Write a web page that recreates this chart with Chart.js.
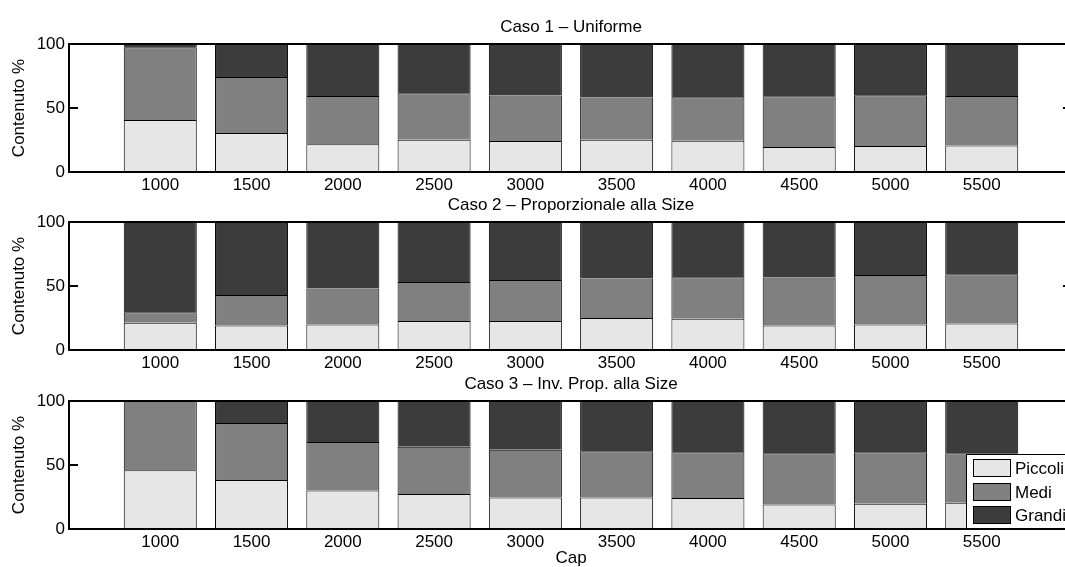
<!DOCTYPE html>
<html>
<head>
<meta charset="utf-8">
<script src="https://cdn.jsdelivr.net/npm/chart.js@4"></script>
<style>
  html, body { margin: 0; padding: 0; background: #fff; overflow: hidden; }
  #wrap { position: relative; width: 1065px; height: 567px; overflow: hidden; }
  canvas { position: absolute; left: 0; }
</style>
</head>
<body>
<div id="wrap">
  <canvas id="caso1" width="1076" height="200" style="top:0px"></canvas>
  <canvas id="caso2" width="1076" height="200" style="top:178px"></canvas>
  <canvas id="caso3" width="1076" height="210" style="top:357px"></canvas>
</div>
<script>
// capacità simulate
const capLabels = ["1000", "1500", "2000", "2500", "3000", "3500", "4000", "4500", "5000", "5500"];
const yTicks = [0, 50, 100];
const seriesNames = ["Piccoli", "Medi", "Grandi"];
const seriesColors = ["#e6e6e6", "#808080", "#3c3c3c"];

// Caso 1 - Uniforme
const piccoli1 = [40.6, 30.5, 21.6, 25.1, 24.3, 25.1, 24.4, 19.5, 20.3, 20.8];
const medi1    = [56.8, 43.7, 37.8, 36.5, 35.5, 33.2, 34.0, 39.6, 39.6, 38.6];
const grandi1  = [2.6, 25.8, 40.6, 38.4, 40.2, 41.7, 41.6, 40.9, 40.1, 40.6];

// Caso 2 - Proporzionale alla Size
const piccoli2 = [21.3, 19.2, 20.0, 22.7, 22.7, 25.0, 24.4, 19.2, 20.0, 20.8];
const medi2    = [8.1, 23.8, 28.0, 30.4, 32.0, 30.9, 32.4, 37.5, 38.6, 38.3];
const grandi2  = [70.6, 57.0, 52.0, 46.9, 45.3, 44.1, 43.2, 43.3, 41.4, 40.9];

// Caso 3 - Inv. Prop. alla Size
const piccoli3 = [45.9, 38.3, 30.0, 27.3, 24.7, 24.7, 24.3, 19.2, 19.7, 20.5];
const medi3    = [54.1, 44.5, 38.0, 37.0, 37.3, 36.0, 35.6, 39.9, 40.2, 38.6];
const grandi3  = [0, 17.2, 32.0, 35.7, 38.0, 39.3, 40.1, 40.9, 40.1, 40.9];

const FONT = "'Liberation Sans', Arial, Helvetica, sans-serif";

// one empty slot on each side, like the matlab axes
const padded = arr => [null, ...arr, null];

// box + inward ticks at 50 + subplot title
const boxPlugin = {
  id: 'axesBox',
  afterDraw(chart, args, opts) {
    var ctx = chart.ctx;
    var a = chart.chartArea;
    var y = chart.scales.y;
    var l = Math.round(a.left), r = Math.round(a.right);
    var t = Math.round(a.top), b = Math.round(a.bottom);
    ctx.save();
    ctx.fillStyle = '#000';
    ctx.fillRect(l - 1, t - 1, r - l + 1, 2);   // top
    ctx.fillRect(l - 1, t - 1, 2, b - t + 1);   // left
    ctx.fillRect(r - 1, t, 1, b - t);           // right
    ctx.fillRect(l - 1, b - 1, r - l + 1, 2);   // bottom
    yTicks.forEach(v => {
      var py = Math.round(y.getPixelForValue(v));
      ctx.fillRect(l, py - 1, 9, 2);
      ctx.fillRect(r - 10, py - 1, 10, 2);
    });
    ctx.font = '17px ' + FONT;
    ctx.textAlign = 'center';
    ctx.textBaseline = 'alphabetic';
    ctx.fillText(opts.text, (a.left + a.right) / 2, a.top - 12);
    ctx.restore();
  }
};

// legend inside the third axes, bottom right
const legendPlugin = {
  id: 'boxLegend',
  afterDraw(chart, args, opts) {
    if (!opts.show) return;
    var ctx = chart.ctx;
    var a = chart.chartArea;
    var x0 = 966, y1 = Math.round(a.bottom), y0 = y1 - 75;
    var r = Math.round(a.right);
    ctx.save();
    ctx.fillStyle = '#fff';
    ctx.fillRect(x0, y0, r - x0, y1 - y0);
    ctx.fillStyle = '#000';
    ctx.fillRect(x0, y0, r - x0, 1);
    ctx.fillRect(x0, y0, 1, y1 - y0);
    ctx.fillRect(x0, y1 - 1, r - x0, 2);
    ctx.font = '17px ' + FONT;
    ctx.textBaseline = 'middle';
    ctx.textAlign = 'left';
    ctx.strokeStyle = '#000';
    ctx.lineWidth = 1;
    seriesNames.forEach((name, i) => {
      var sy = Math.round(y0 + 5 + i * 23.5);
      ctx.fillStyle = seriesColors[i];
      ctx.fillRect(x0 + 7, sy, 38, 18);
      ctx.strokeRect(x0 + 7.5, sy + 0.5, 37, 17);
      ctx.fillStyle = '#000';
      ctx.fillText(name, x0 + 49, sy + 10);
    });
    ctx.restore();
  }
};

const drawCaso = (id, title, piccoli, medi, grandi, withXTitle) => {
  var ctx = document.getElementById(id).getContext('2d');
  var values = [piccoli, medi, grandi];

  new Chart(ctx, {
    type: 'bar',
    data: {
      labels: ['', ...capLabels, ''],
      datasets: values.map((vals, i) => ({
        label: seriesNames[i],
        data: padded(vals),
        backgroundColor: seriesColors[i],
        borderColor: '#000',
        borderWidth: { top: 1, left: 1, right: 1, bottom: 0 },
        borderSkipped: false,
        categoryPercentage: 1.0,
        barPercentage: 0.8
      }))
    },
    options: {
      responsive: false,
      animation: false,
      devicePixelRatio: 1,
      layout: { padding: { top: 44, left: 0, right: 0, bottom: 0 } },
      plugins: {
        legend: { display: false },
        tooltip: { enabled: false },
        axesBox: { text: title },
        boxLegend: { show: withXTitle }
      },
      scales: {
        x: {
          stacked: true,
          offset: false,
          grid: { display: false, drawTicks: false },
          border: { display: false },
          ticks: { color: '#000', font: { family: FONT, size: 17 }, padding: 3, maxRotation: 0, autoSkip: false },
          title: {
            display: withXTitle,
            text: 'Cap',
            color: '#000',
            font: { family: FONT, size: 17, lineHeight: 1 },
            padding: 0
          },
          afterFit: s => { s.height = withXTitle ? 38 : 28; }
        },
        y: {
          stacked: true,
          min: 0,
          max: 100,
          grid: { display: false, drawTicks: false },
          border: { display: false },
          afterBuildTicks: s => { s.ticks = yTicks.map(v => ({ value: v })); },
          ticks: { color: '#000', font: { family: FONT, size: 17 }, padding: 4 },
          title: {
            display: true,
            text: 'Contenuto %',
            color: '#000',
            font: { family: FONT, size: 17, lineHeight: 1 },
            padding: { top: 11, bottom: 0 }
          },
          afterFit: s => { s.width = 69; }
        }
      }
    },
    plugins: [boxPlugin, legendPlugin]
  });
};

drawCaso('caso1', 'Caso 1 \u2013 Uniforme', piccoli1, medi1, grandi1, false);
drawCaso('caso2', 'Caso 2 \u2013 Proporzionale alla Size', piccoli2, medi2, grandi2, false);
drawCaso('caso3', 'Caso 3 \u2013 Inv. Prop. alla Size', piccoli3, medi3, grandi3, true);
</script>
</body>
</html>
